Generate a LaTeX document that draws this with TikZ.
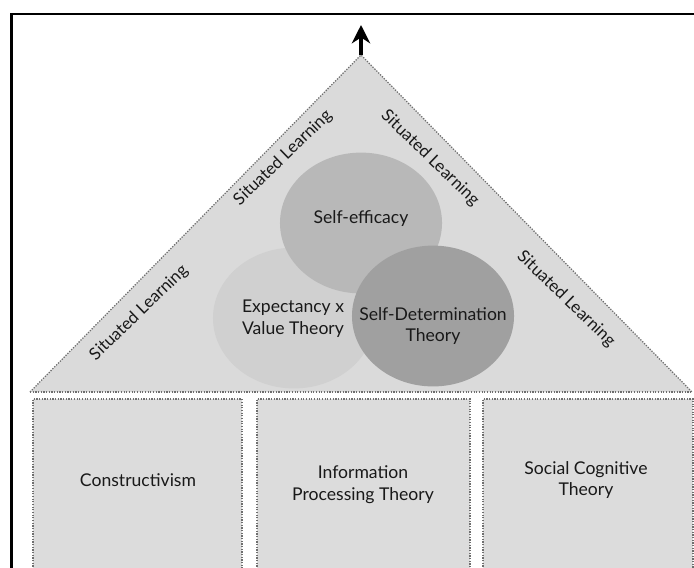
\documentclass[tikz,border=0pt]{standalone}
\usepackage{fontspec}
\setmainfont{Lato}
\usetikzlibrary{arrows.meta,shapes.geometric}

\definecolor{roofgray}{HTML}{DADADA}
\definecolor{pillargray}{HTML}{DCDCDC}
\definecolor{evgray}{HTML}{D0D0D0}
\definecolor{sefgray}{HTML}{B8B8B8}
\definecolor{sdtgray}{HTML}{A0A0A0}
\definecolor{dotgray}{HTML}{6E6E6E}

\tikzset{
  dotline/.style = {densely dotted, line width=0.9pt, dotgray},
  bubble/.style = {ellipse, minimum width=4.05cm, minimum height=3.52cm, inner sep=0pt},
  theory/.style = {font=\fontsize{12.5}{15.5}\selectfont, align=center, text=black!90},
  situated/.style = {font=\fontsize{12}{14}\selectfont, text=black!90},
}

\begin{document}
\begin{tikzpicture}[x=0.025cm, y=-0.025cm]
  \useasboundingbox (0,0) rectangle (694,567);
  \clip (0,0) rectangle (694,567);
  \fill[white] (0,0) rectangle (694,567);

  % frame
  \draw[line width=2pt] (11.5,620) -- (11.5,14) -- (720,14);

  % roof
  \coordinate (apex) at (361,55);
  \coordinate (baseL) at (30,392);
  \coordinate (baseR) at (692,392);
  \coordinate (tip) at (361,25);
  \fill[roofgray] (apex) -- (baseL) -- (baseR) -- cycle;

  \begin{scope}
    \clip (apex) -- (baseL) -- (baseR) -- cycle;
    \node[bubble, fill=evgray] (ev) at (294,318) {};
    \node[bubble, fill=sefgray] (sef) at (361,223) {};
    \node[bubble, fill=sdtgray] (sdt) at (433,316) {};
  \end{scope}

  \draw[dotline] (baseL) -- (apex) -- (baseR);
  \draw[dotline] (baseL) -- (baseR);
  \draw[line width=2.5pt, -{Stealth[length=0.46cm,width=0.46cm]}] (apex) -- (tip);

  \node[theory] (seftext) at (361,219) {Self-efficacy};
  \node[theory] (evtext) at (293,319) {Expectancy x\\Value Theory};
  \node[theory] (sdttext) at (433,326) {Self-Determination\\Theory};

  \node[situated, rotate=44] (sitA) at (139,313) {Situated Learning};
  \node[situated, rotate=44] (sitB) at (283,158) {Situated Learning};
  \node[situated, rotate=-44] (sitC) at (430,158) {Situated Learning};
  \node[situated, rotate=-44] (sitD) at (566,299) {Situated Learning};

  % pillars
  \foreach \xa/\xb in {33/242, 257/470, 483/693}
    \draw[dotline, fill=pillargray] (\xa,620) -- (\xa,399) -- (\xb,399) -- (\xb,620);

  \node[theory] (cons) at (138,480) {Constructivism};
  \node[theory] (ipt) at (363,485) {Information\\Processing Theory};
  \node[theory] (sct) at (586,480) {Social Cognitive\\Theory};
\end{tikzpicture}
\end{document}
